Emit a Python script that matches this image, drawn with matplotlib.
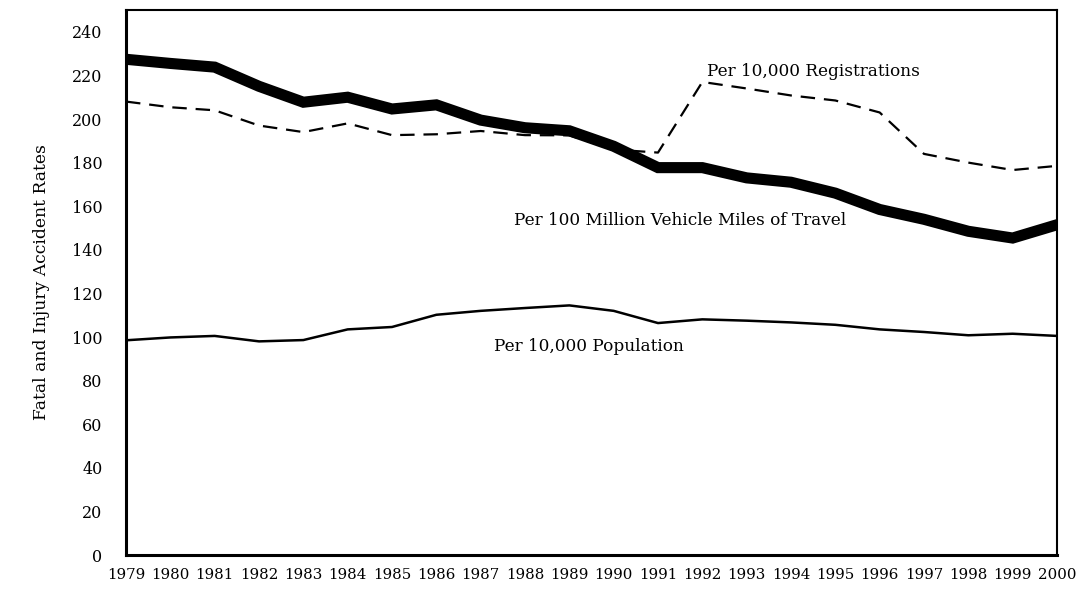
import matplotlib.pyplot as plt

years = list(range(1979, 2001))
vmt = [227.4, 225.5, 223.8, 215.0, 207.7, 210.0, 204.6, 206.5, 199.5, 196.0, 194.6,
       187.5, 177.7, 177.7, 173.0, 171.0, 166.0, 158.5, 154.0, 148.5, 145.4, 151.5]
registrations = [208.0, 205.4, 204.0, 197.0, 194.0, 198.0, 192.6, 193.0, 194.5, 192.6, 192.5,
                 186.0, 184.6, 217.0, 214.0, 210.8, 208.5, 203.0, 184.0, 180.0, 176.6, 178.5]
population = [98.5, 99.8, 100.5, 98.0, 98.6, 103.5, 104.6, 110.2, 112.0, 113.3, 114.5,
              112.0, 106.4, 108.1, 107.5, 106.7, 105.6, 103.5, 102.3, 100.8, 101.5, 100.5]

plt.rcParams['font.family'] = 'DejaVu Serif'

fig = plt.figure(figsize=(10.79, 5.89), dpi=100)
ax = fig.add_axes([0.1168, 0.0577, 0.8628, 0.9253])

ax.plot(years, registrations, color='black', lw=1.6, ls=(0, (6.5, 4)))
ax.plot(years, vmt, color='black', lw=8, solid_joinstyle='miter')
ax.plot(years, population, color='black', lw=1.8)

ax.text(1992.1, 222, 'Per 10,000 Registrations', fontsize=12.2, va='center')
ax.text(1987.75, 153.5, 'Per 100 Million Vehicle Miles of Travel', fontsize=12.2, va='center')
ax.text(1987.3, 95.7, 'Per 10,000 Population', fontsize=12.2, va='center')

ax.set_xlim(1979, 2000)
ax.set_ylim(0, 250)
ax.set_xticks(years)
ax.set_yticks(range(0, 241, 20))
ax.tick_params(axis='both', length=0)
ax.tick_params(axis='y', pad=17, labelsize=11.5)
ax.tick_params(axis='x', pad=9, labelsize=10.8)
ax.set_ylabel('Fatal and Injury Accident Rates', fontsize=12.3, labelpad=16)

for side in ['left', 'bottom']:
    ax.spines[side].set_linewidth(2.2)
for side in ['top', 'right']:
    ax.spines[side].set_linewidth(1.5)

fig.savefig('out.png', dpi=100)
